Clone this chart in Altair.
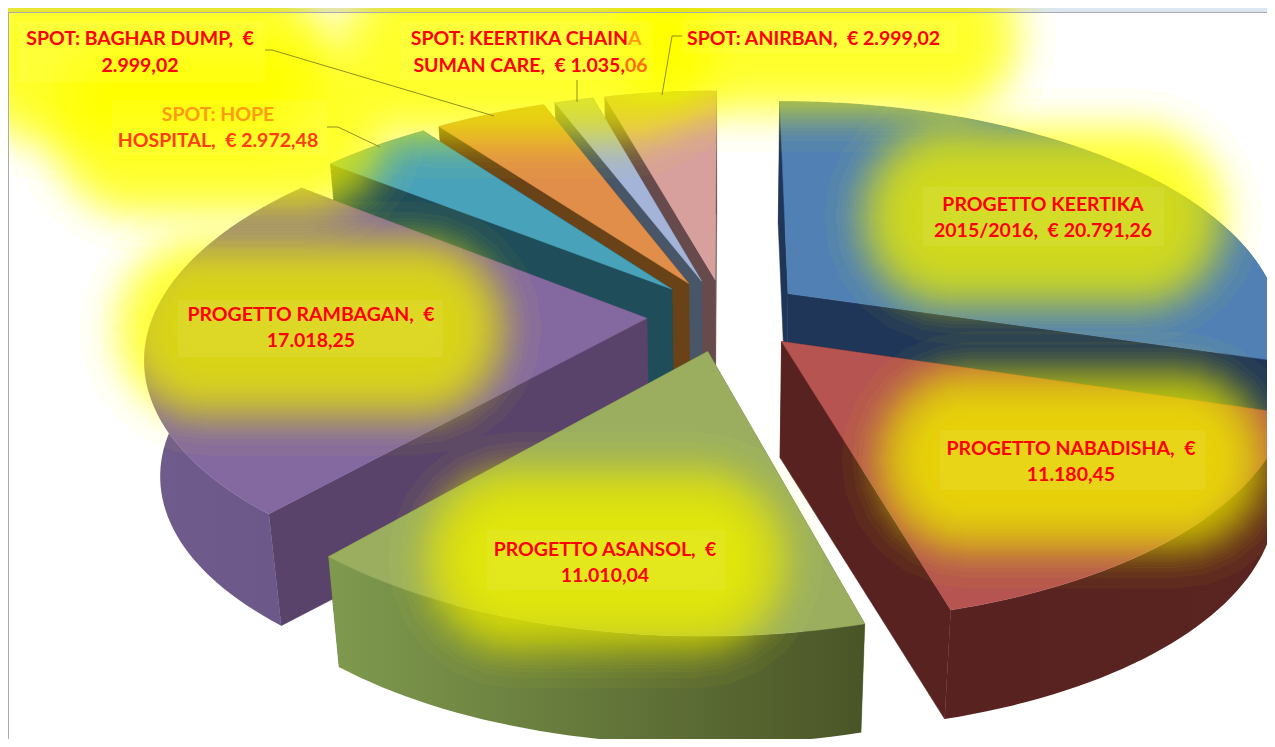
import math
from statistics import NormalDist
import altair as alt

# ---- chart values
slice_names = ["PROGETTO KEERTIKA 2015/2016", "PROGETTO NABADISHA", "PROGETTO ASANSOL", "PROGETTO RAMBAGAN",
               "SPOT: HOPE HOSPITAL", "SPOT: BAGHAR DUMP", "SPOT: KEERTIKA CHAINA SUMAN CARE", "SPOT: ANIRBAN"]
slice_values = [20791.26, 11180.45, 11010.04, 17018.25, 2972.48, 2999.02, 1035.06, 2999.02]
top_colors = ["#5080b4", "#b55450", "#9bae60", "#8469a0", "#48a2ba", "#e08e4a", "#a3b4d8", "#d7a09c"]
wall_colors = ["#1f3659", "#57221f", "#5f7038", "#59436a", "#1f4d5a", "#6a4217", "#485668", "#664a4c"]
rim_left = ["#1f3659", "#57221f", "#7f9a4e", "#705c8c", "#1f4d5a", "#6a4217", "#485668", "#664a4c"]
rim_right = ["#1f3659", "#5a2421", "#4a5527", "#6c5888", "#1f4d5a", "#6a4217", "#485668", "#664a4c"]
draw_order = [0, 7, 6, 5, 4, 3, 1, 2]

NB = "\u00a0"
label_text = [f"SPOT: BAGHAR DUMP, {NB}€", "2.999,02", "SPOT: HOPE", f"HOSPITAL, {NB}€ 2.972,48",
              f"SPOT: ANIRBAN, {NB}€ 2.999,02",
              "PROGETTO KEERTIKA", f"2015/2016, {NB}€ 20.791,26",
              f"PROGETTO NABADISHA, {NB}€", "11.180,45",
              f"PROGETTO RAMBAGAN, {NB}€", "17.018,25",
              f"PROGETTO ASANSOL, {NB}€", "11.010,04",
              "SPOT: KEERTIKA CHAIN", "A", f"SUMAN CARE, {NB}€ 1.035,", "06"]
label_x = [140, 140, 218, 218, 687, 1043, 1043, 1071, 1071, 311, 311, 605, 605, 628, 628, 625, 625]
label_y = [39, 66, 115, 141, 39, 205, 231, 449, 475, 315, 341, 550, 576, 39, 39, 66, 66]
label_align = ["center"] * 4 + ["left"] + ["center"] * 8 + ["right", "left", "right", "left"]
label_color = ["#ff0000", "#ff0000", "#ff9a12", "#ff3c10", "#ff0000"] + ["#ff0000"] * 8 + \
              ["#ff0000", "#ff9a12", "#ff0000", "#ff6a10"]

glow_boxes = [(18, 22, 265, 82), (112, 100, 327, 155), (400, 22, 652, 80), (682, 20, 958, 53),
              (923, 187, 1164, 246), (940, 430, 1205, 490), (178, 300, 443, 357), (487, 530, 725, 590)]
leaders = [[(265, 50), (272, 50), (494, 116)], [(327, 127), (338, 127), (380, 147)],
           [(577, 80), (577, 102)], [(682, 36), (672, 36), (662, 95)]]

# ---- 3D view of the pie
CX, CY, A, B, K, EXPLODE = 725.5, 315.0, 493.0, 228.0, 0.155, 0.16
FLOOR, DROP = 0.973, 117.0
total = sum(slice_values)


def top_pt(u, v):
    s = 1 / (1 - K * v)
    return (CX + A * u * s, CY + B * v * s)


def bottom_pt(p):
    return (CX + (p[0] - CX) * FLOOR, CY + (p[1] - CY) * FLOOR + DROP)


def poly(points):
    ring = [list(p) for p in points] + [list(points[0])]
    return {"type": "Feature", "properties": {}, "geometry": {"type": "Polygon", "coordinates": [ring]}}


PROJ = dict(type="identity", scale=1, translate=[-8, -8])


def shape(features, **mark):
    return alt.Chart(alt.Data(values=features)).mark_geoshape(clip=True, **mark).project(**PROJ)


def grad(c1, c2):
    return alt.Gradient(gradient="linear", x1=0, x2=1, y1=0, y2=0,
                        stops=[alt.GradientStop(color=c1, offset=0), alt.GradientStop(color=c2, offset=1)])


layers = []

# page band and frame
layers.append(shape([poly([(0, 0), (1300, 0), (1300, 12), (0, 12)])], fill="#dce6f1", stroke="#dce6f1", strokeWidth=0.5))

# slices
angles = []
acc = 0.0
for val in slice_values:
    angles.append((acc, acc + val / total * 2 * math.pi))
    acc += val / total * 2 * math.pi

for i in draw_order:
    t0, t1 = angles[i]
    mid = (t0 + t1) / 2
    ou, ov = EXPLODE * math.sin(mid), -EXPLODE * math.cos(mid)
    tip = top_pt(ou, ov)
    n = max(8, int(math.degrees(t1 - t0) / 1.5))
    arc = []
    for j in range(n + 1):
        t = t0 + (t1 - t0) * j / n
        arc.append(top_pt(ou + math.sin(t), ov - math.cos(t)))
    base_arc = [bottom_pt(p) for p in arc]
    base_tip = bottom_pt(tip)
    wall = wall_colors[i]
    layers.append(shape([poly([tip, arc[0], base_arc[0], base_tip]), poly([tip, arc[-1], base_arc[-1], base_tip])],
                        fill=wall, stroke=wall, strokeWidth=0.5))
    layers.append(shape([poly(arc + base_arc[::-1])], fill=grad(rim_left[i], rim_right[i]), strokeWidth=0))
    layers.append(shape([poly([tip] + arc)], fill=top_colors[i], stroke=top_colors[i], strokeWidth=0.5))


# soft yellow glow: many stacked, growing rounded boxes with a bell-shaped spread
def rounded(x0, y0, x1, y1, r):
    pts = []
    for cx, cy, start in [(x1 - r, y0 + r, -90), (x1 - r, y1 - r, 0), (x0 + r, y1 - r, 90), (x0 + r, y0 + r, 180)]:
        for k in range(7):
            a = math.radians(start + 15 * k)
            pts.append((cx + r * math.cos(a), cy + r * math.sin(a)))
    return poly(pts)


glow = []
STEPS = 40
MU, SIGMA = 47.0, 23.0
bell = NormalDist(MU, SIGMA)
for x0, y0, x1, y1 in glow_boxes:
    for q in range(STEPS):
        d = bell.inv_cdf((q + 0.5) / STEPS)
        h = (y1 - y0) + 2 * d
        if h < 4:
            d = (4 - (y1 - y0)) / 2
            h = 4
        r = min(d + 34, h / 2 - 0.5)
        glow.append(rounded(x0 - d, y0 - d, x1 + d, y1 + d, max(r, 2)))
layers.append(shape(glow, fill="#ffff00", fillOpacity=1 - 0.2 ** (1 / STEPS), strokeWidth=0))

# paler box directly behind each label
layers.append(shape([poly([(a, b), (c, b), (c, d), (a, d)]) for a, b, c, d in glow_boxes],
                    fill="#ffffff", fillOpacity=0.07, strokeWidth=0))

# frame lines
layers.append(shape([poly([(8, 12), (1300, 12), (1300, 13), (8, 13)]), poly([(8, 12), (9, 12), (9, 760), (8, 760)])],
                    fill="#a6abb2", strokeWidth=0))

# leader lines
for line in leaders:
    feat = {"type": "Feature", "properties": {},
            "geometry": {"type": "LineString", "coordinates": [list(p) for p in line]}}
    layers.append(shape([feat], filled=False, stroke="#8f8f22", strokeWidth=1))

# labels
for align in ["center", "left", "right"]:
    rows = [{"t": t, "x": x, "y": y, "c": c}
            for t, x, y, c, al in zip(label_text, label_x, label_y, label_color, label_align) if al == align]
    layers.append(
        alt.Chart(alt.Data(values=rows))
        .mark_text(font="Lato", fontSize=19.5, fontWeight="bold", align=align, baseline="middle")
        .encode(longitude="x:Q", latitude="y:Q", text="t:N", color=alt.Color("c:N", scale=None))
        .project(**PROJ)
    )

chart = alt.layer(*layers).properties(
    width=1259, height=731, padding=0, autosize=alt.AutoSizeParams(type="none"), background="white"
).configure_view(stroke=None)

chart.save("out.html", embed_options={"renderer": "svg", "actions": False})
